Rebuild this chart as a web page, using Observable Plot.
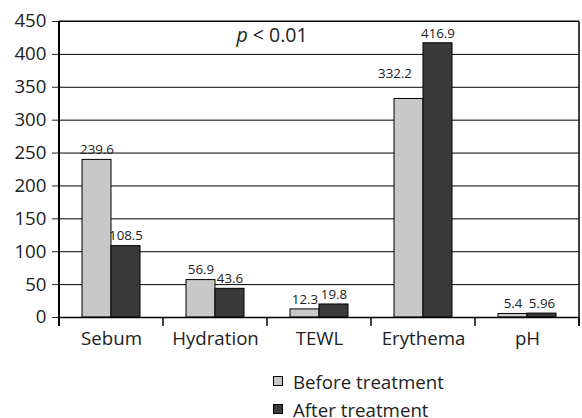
<!DOCTYPE html>
<html><head><meta charset="utf-8">
<script src="https://cdn.jsdelivr.net/npm/d3@7"></script>
<script src="https://cdn.jsdelivr.net/npm/@observablehq/plot@0.6"></script>
<style>
body{margin:0;background:#fff;font-family:"Open Sans",sans-serif;}
#legend{margin-left:273px;font-size:18.7px;color:#222;}
.row{display:flex;align-items:center;height:28px;}
.sw{width:8px;height:8px;border:1px solid #000;margin-right:10px;}
</style></head><body><div id="chart"></div><div id="legend"></div>
<script>
const categories = ["Sebum", "Hydration", "TEWL", "Erythema", "pH"];
const series = ["Before treatment", "After treatment"];
const beforeValues = [239.6, 56.9, 12.3, 332.2, 5.4];
const afterValues = [108.5, 43.6, 19.8, 416.9, 5.96];
const yTicks = [0, 50, 100, 150, 200, 250, 300, 350, 400, 450];
const colors = ["#c8c8c8", "#3a3a3a"];
const annotation = "p < 0.01";

const rows = [];
categories.forEach((c, i) => {
  rows.push({cat: c, series: series[0], value: beforeValues[i], label: String(beforeValues[i])});
  rows.push({cat: c, series: series[1], value: afterValues[i], label: String(afterValues[i])});
});
const isSpecial = d => d.cat === "Erythema" && d.series === series[0];

const plot = Plot.plot({
  width: 582, height: 360,
  marginLeft: 57, marginRight: 1, marginTop: 21, marginBottom: 43,
  style: {fontFamily: "Open Sans", fontSize: "18.7px", color: "#222", background: "white", overflow: "visible"},
  facet: {data: rows, x: "cat"},
  fx: {domain: categories, padding: 0, axis: "bottom", tickSize: 0, tickPadding: 14, label: null},
  x: {domain: series, axis: null, paddingInner: 0, paddingOuter: 0.75},
  y: {domain: [0, 450], ticks: yTicks, tickSize: 7, tickPadding: 6, label: null},
  color: {domain: series, range: colors},
  marks: [
    Plot.ruleY(yTicks.slice(1), {stroke: "black", strokeWidth: 1}),
    Plot.barY(rows, {x: "series", y: "value", fill: "series", stroke: "black", strokeWidth: 1}),
    Plot.ruleY([0], {stroke: "black", strokeWidth: 1.5}),
    Plot.text(rows, {filter: d => !isSpecial(d), x: "series", y: "value", text: "label", dy: -10, fontSize: 13.3, fill: "#222"}),
    Plot.text(rows, {filter: isSpecial, x: "series", y: "value", text: "label", dx: -14, dy: -25, fontSize: 13.3, fill: "#222"})
  ]
});
document.getElementById("chart").appendChild(plot);

const svg = d3.select(plot);
const fx = plot.scale("fx");
const y = plot.scale("y");
const y0 = y.apply(0), yTop = y.apply(450);
const edges = categories.map(c => fx.apply(c));
edges.push(fx.apply(categories[categories.length - 1]) + fx.bandwidth);
const g = svg.append("g").attr("stroke", "black");
edges.forEach((xv, i) => {
  g.append("line").attr("x1", xv).attr("x2", xv).attr("y1", y0).attr("y2", y0 + 9).attr("stroke-width", 1.5);
});
g.append("line").attr("x1", edges[0]).attr("x2", edges[0]).attr("y1", yTop).attr("y2", y0 + 9).attr("stroke-width", 2);
g.append("line").attr("x1", edges[5]).attr("x2", edges[5]).attr("y1", yTop).attr("y2", y0 + 9).attr("stroke-width", 1.5);
g.append("line").attr("x1", edges[0]).attr("x2", edges[5]).attr("y1", yTop).attr("y2", yTop).attr("stroke-width", 1);

const t = svg.append("text").attr("x", fx.apply("TEWL") + 5).attr("y", y.apply(428) + 7)
  .attr("text-anchor", "middle").attr("font-size", 19.5).attr("fill", "#222");
t.append("tspan").attr("font-style", "italic").text(annotation.slice(0, 1));
t.append("tspan").text(annotation.slice(1));

const legend = d3.select("#legend").style("padding-top", "7px");
series.forEach((s, i) => {
  const r = legend.append("div").attr("class", "row");
  r.append("div").attr("class", "sw").style("background", colors[i]);
  r.append("span").text(s);
});
</script></body></html>
